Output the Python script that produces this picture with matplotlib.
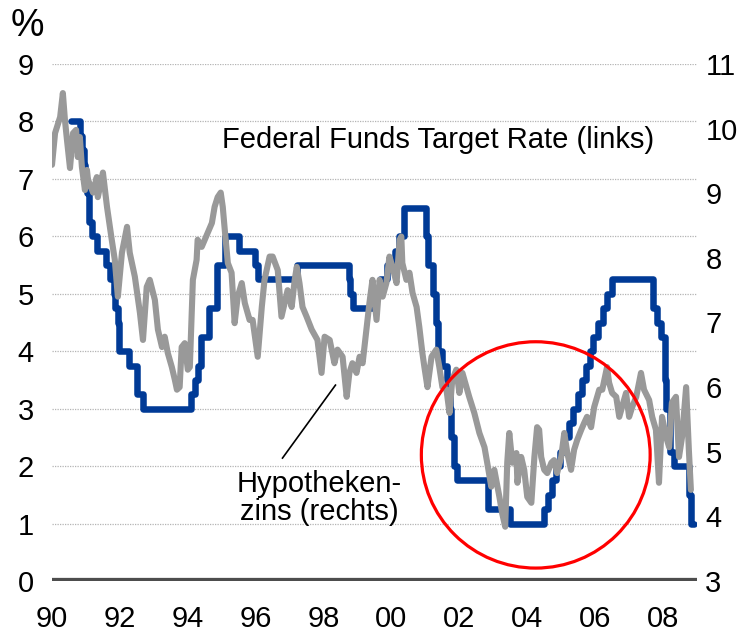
import matplotlib
matplotlib.use("Agg")
import matplotlib.pyplot as plt
from matplotlib.patches import Ellipse

plt.rcParams['font.family'] = ['Liberation Sans', 'DejaVu Sans']

# Federal Funds Target Rate (left axis), step changes
fed_dates = [1990.55, 1990.83, 1990.87, 1990.93, 1990.96, 1991.02, 1991.09, 1991.18, 1991.33,
             1991.60, 1991.70, 1991.83, 1991.85, 1991.93, 1991.97, 1992.27, 1992.50, 1992.68,
             1994.09, 1994.22, 1994.30, 1994.38, 1994.62, 1994.87, 1995.09, 1995.51, 1995.97,
             1996.08, 1997.23, 1998.74, 1998.79, 1998.88, 1999.50, 1999.65, 1999.88, 2000.09,
             2000.22, 2000.37, 2001.01, 2001.08, 2001.21, 2001.30, 2001.37, 2001.49, 2001.64,
             2001.71, 2001.75, 2001.85, 2001.94, 2002.85, 2003.48, 2004.50, 2004.61, 2004.72,
             2004.86, 2004.95, 2005.09, 2005.22, 2005.34, 2005.50, 2005.61, 2005.72, 2005.84,
             2005.95, 2006.08, 2006.24, 2006.36, 2006.49, 2007.71, 2007.83, 2007.94, 2008.06,
             2008.08, 2008.21, 2008.33, 2008.77, 2008.83, 2008.90]
fed_rates = [8.0, 7.75, 7.5, 7.25, 7.0, 6.75, 6.25, 6.0, 5.75,
             5.5, 5.25, 5.0, 4.75, 4.5, 4.0, 3.75, 3.25, 3.0,
             3.25, 3.5, 3.75, 4.25, 4.75, 5.5, 6.0, 5.75, 5.5,
             5.25, 5.5, 5.25, 5.0, 4.75, 5.0, 5.25, 5.5, 5.75,
             6.0, 6.5, 6.0, 5.5, 5.0, 4.5, 4.0, 3.75, 3.5,
             3.0, 2.5, 2.0, 1.75, 1.25, 1.0, 1.25, 1.5, 1.75,
             2.0, 2.25, 2.5, 2.75, 3.0, 3.25, 3.5, 3.75, 4.0,
             4.25, 4.5, 4.75, 5.0, 5.25, 4.75, 4.5, 4.25, 3.5,
             3.0, 2.25, 2.0, 1.5, 1.0, 1.0]

# Hypothekenzins (right axis)
mort_dates = [1990.00, 1990.09, 1990.24, 1990.32, 1990.38, 1990.44, 1990.53, 1990.62, 1990.71, 1990.76,
              1990.82, 1990.88, 1990.97, 1991.03, 1991.06, 1991.21, 1991.32, 1991.35, 1991.50, 1991.62,
              1991.76, 1991.85, 1991.94, 1992.06, 1992.21, 1992.29, 1992.44, 1992.59, 1992.68, 1992.79,
              1992.88, 1993.03, 1993.12, 1993.24, 1993.32, 1993.41, 1993.53, 1993.62, 1993.68, 1993.76,
              1993.82, 1993.91, 1994.00, 1994.06, 1994.15, 1994.26, 1994.29, 1994.41, 1994.59, 1994.71,
              1994.79, 1994.88, 1994.97, 1995.03, 1995.09, 1995.18, 1995.29, 1995.38, 1995.47, 1995.59,
              1995.68, 1995.82, 1995.91, 1996.06, 1996.18, 1996.26, 1996.41, 1996.50, 1996.65, 1996.76,
              1996.94, 1997.06, 1997.15, 1997.21, 1997.29, 1997.38, 1997.50, 1997.65, 1997.82, 1997.94,
              1998.03, 1998.18, 1998.32, 1998.41, 1998.56, 1998.68, 1998.76, 1998.85, 1998.97, 1999.06,
              1999.15, 1999.26, 1999.35, 1999.44, 1999.56, 1999.65, 1999.74, 1999.85, 1999.94, 2000.03,
              2000.15, 2000.24, 2000.29, 2000.32, 2000.44, 2000.53, 2000.62, 2000.74, 2000.82, 2000.91,
              2000.97, 2001.06, 2001.18, 2001.32, 2001.41, 2001.50, 2001.62, 2001.71, 2001.79, 2001.91,
              2002.00, 2002.09, 2002.21, 2002.29, 2002.44, 2002.59, 2002.74, 2002.82, 2002.94, 2003.03,
              2003.18, 2003.26, 2003.35, 2003.41, 2003.47, 2003.56, 2003.68, 2003.71, 2003.82, 2003.91,
              2004.00, 2004.12, 2004.21, 2004.29, 2004.35, 2004.41, 2004.50, 2004.59, 2004.71, 2004.79,
              2004.88, 2005.00, 2005.09, 2005.18, 2005.29, 2005.38, 2005.47, 2005.59, 2005.68, 2005.76,
              2005.88, 2005.97, 2006.12, 2006.21, 2006.35, 2006.41, 2006.50, 2006.62, 2006.71, 2006.79,
              2006.91, 2007.00, 2007.09, 2007.21, 2007.35, 2007.44, 2007.59, 2007.68, 2007.79, 2007.88,
              2007.97, 2008.09, 2008.18, 2008.26, 2008.38, 2008.47, 2008.56, 2008.68, 2008.76, 2008.82]
mort_rates = [9.44, 9.93, 10.18, 10.55, 10.14, 9.83, 9.39, 9.93, 9.98, 9.56,
              9.87, 9.41, 9.05, 9.36, 9.21, 9.01, 9.25, 8.94, 9.32, 8.79,
              8.28, 7.97, 7.40, 8.08, 8.48, 8.08, 7.71, 7.15, 6.73, 7.55,
              7.66, 7.35, 6.89, 6.62, 6.78, 6.53, 6.31, 6.11, 5.96, 6.00,
              6.62, 6.68, 6.27, 6.31, 7.66, 7.97, 8.28, 8.17, 8.39, 8.54,
              8.79, 8.94, 9.01, 8.79, 8.43, 7.92, 7.77, 6.99, 7.40, 7.61,
              7.30, 7.04, 7.04, 6.47, 7.24, 7.66, 8.02, 8.02, 7.81, 7.09,
              7.50, 7.24, 7.66, 7.86, 7.61, 7.24, 7.09, 6.89, 6.73, 6.22,
              6.78, 6.73, 6.37, 6.58, 6.47, 5.85, 6.22, 6.37, 6.22, 6.47,
              6.37, 6.89, 7.30, 7.66, 7.04, 7.66, 7.40, 7.61, 8.02, 7.86,
              7.61, 8.28, 8.33, 7.92, 7.66, 7.77, 7.46, 7.24, 6.93, 6.53,
              6.31, 6.00, 6.47, 6.58, 6.31, 6.00, 5.96, 5.60, 6.11, 6.27,
              5.91, 6.22, 6.00, 5.85, 5.60, 5.29, 5.07, 4.83, 4.46, 4.72,
              4.30, 4.05, 3.84, 4.83, 5.29, 4.83, 4.98, 4.52, 4.92, 4.72,
              4.30, 4.21, 4.92, 5.38, 5.34, 4.92, 4.72, 4.67, 4.83, 4.87,
              4.67, 4.92, 5.29, 4.98, 4.72, 5.03, 5.18, 5.34, 5.45, 5.54,
              5.38, 5.69, 5.96, 5.96, 6.31, 6.07, 5.91, 5.85, 5.54, 5.69,
              5.91, 5.54, 5.69, 5.85, 6.22, 5.96, 5.80, 5.54, 5.34, 4.52,
              5.54, 5.23, 5.07, 5.76, 5.85, 4.92, 5.23, 6.00, 5.03, 4.41]

x_ticks = [1990, 1992, 1994, 1996, 1998, 2000, 2002, 2004, 2006, 2008]
x_labels = ['90', '92', '94', '96', '98', '00', '02', '04', '06', '08']
left_ticks = [0, 1, 2, 3, 4, 5, 6, 7, 8, 9]
right_ticks = [3, 4, 5, 6, 7, 8, 9, 10, 11]

BLUE = '#003A96'
GRAY = '#999999'
FS = 21

fig = plt.figure(figsize=(7.48, 6.36), dpi=100)
ax = fig.add_axes([52/748, 55/636, 645/748, 517/636])
ax2 = ax.twinx()

for y in left_ticks[1:]:
    ax.axhline(y, color='#b4b4b4', lw=0.9, ls=(0, (1, 1)), zorder=0)
ax.axhline(0, color='#4d4d4d', lw=4.5, zorder=1, solid_capstyle='butt')

ax.plot(fed_dates, fed_rates, drawstyle='steps-post', color=BLUE, lw=4.7,
        solid_joinstyle='round', solid_capstyle='round', zorder=2)
ax2.plot(mort_dates, mort_rates, color=GRAY, lw=4.4, solid_joinstyle='round',
         solid_capstyle='round', zorder=2)

ax.set_xlim(1990, 2009)
ax.set_ylim(0, 9)
ax2.set_ylim(3, 11)

ax.set_xticks(x_ticks)
ax.set_xticklabels(x_labels)
ax.set_yticks(left_ticks)
ax.set_yticklabels([str(v) for v in left_ticks])
ax2.set_yticks(right_ticks)
ax2.set_yticklabels([str(v) for v in right_ticks])

ax.tick_params(axis='x', length=0, pad=17, labelsize=FS)
ax.tick_params(axis='y', length=0, pad=13, labelsize=FS)
ax2.tick_params(axis='y', length=0, pad=6, labelsize=FS)
for a in (ax, ax2):
    for s in a.spines.values():
        s.set_visible(False)

# red circle (on top of both lines)
circ = Ellipse((2004.25, 2.195), width=6.74, height=3.94, fill=False,
               edgecolor='#ff0000', lw=2.3, transform=ax.transData, zorder=5)
ax2.add_patch(circ)

# annotation line and texts
ax2.plot([1996.79, 1998.35], [3 + 2.14 * 8 / 9, 3 + 3.41 * 8 / 9], color='black', lw=1.2, zorder=6)
ax.text(2007.74, 7.68, 'Federal Funds Target Rate (links)', ha='right', va='center',
        fontsize=FS, color='black', zorder=6)
ax.text(1997.88, 1.44, 'Hypotheken-\nzins (rechts)', ha='center', va='center',
        multialignment='center', fontsize=FS, color='black', linespacing=1.0, zorder=6)

fig.text(27/748, 1 - 26/636, '%', ha='center', va='center', fontsize=27)

fig.savefig('out.png', dpi=100)
